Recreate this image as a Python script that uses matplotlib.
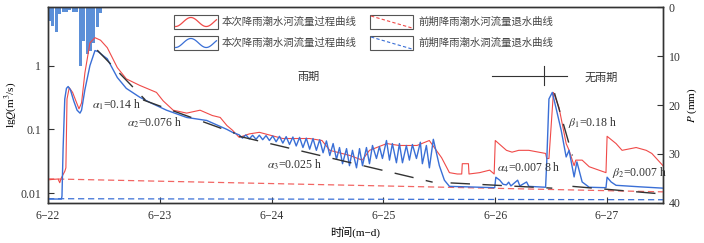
import numpy as np
import matplotlib
from matplotlib import pyplot as plt
from matplotlib.patches import Rectangle
from matplotlib.lines import Line2D

matplotlib.use('agg')

plt.rcParams['font.family'] = ['Liberation Serif', 'Noto Sans CJK SC']
plt.rcParams['mathtext.fontset'] = 'stix'
plt.rcParams['font.size'] = 8

RED = '#f04a48'
BLUE = '#3a6fd6'
BAR = '#5b8fd8'
INK = '#333333'

# time in days after 6-22 00:00
rain_t = [0, 0.0305, 0.061, 0.0915, 0.122, 0.1525, 0.183, 0.2135,
          0.244, 0.2745, 0.305, 0.3355, 0.366, 0.3965, 0.427, 0.4575]
rain_p = [2.8, 3.8, 5.1, 1.4, 0.9, 1.0, 0.5, 0.9,
          1.0, 12.0, 7.0, 9.5, 9.0, 7.3, 4.0, 1.2]

red_t = [0, 0.05, 0.09, 0.105, 0.12, 0.15, 0.16, 0.17, 0.19, 0.22, 0.277, 0.3,
         0.33, 0.375, 0.42, 0.47, 0.53, 0.62, 0.7, 0.82, 0.97, 1.03, 1.12, 1.24,
         1.36, 1.47, 1.54, 1.6, 1.65, 1.71, 1.8, 1.89, 2.0, 2.1, 2.34, 2.45,
         2.52, 2.7, 2.81, 2.875, 3.03, 3.14, 3.3, 3.41, 3.52, 3.59, 3.66, 3.70,
         3.705, 3.76, 3.765, 3.86, 3.95, 3.99, 4.0, 4.1, 4.15, 4.21, 4.3, 4.45,
         4.46, 4.48, 4.52, 4.57, 4.634, 4.66, 4.705, 4.72, 4.777, 4.84, 4.99,
         5.0, 5.08, 5.134, 5.26, 5.35, 5.4, 5.5]
red_q = [0.0162, 0.0165, 0.0167, 0.0146, 0.0175, 0.022, 0.025, 0.3, 0.45, 0.38,
         0.21, 0.26, 0.77, 2.27, 2.74, 2.5, 1.91, 0.93, 0.62, 0.49, 0.38, 0.28,
         0.2, 0.18, 0.2, 0.165, 0.154, 0.115, 0.097, 0.075, 0.085, 0.09, 0.08,
         0.072, 0.072, 0.067, 0.047, 0.039, 0.033, 0.047, 0.06, 0.056, 0.056,
         0.067, 0.036, 0.021, 0.02, 0.02, 0.029, 0.029, 0.02, 0.021, 0.023, 0.02,
         0.067, 0.047, 0.044, 0.047, 0.047, 0.042, 0.035, 0.035, 0.38, 0.22,
         0.06, 0.047, 0.027, 0.033, 0.033, 0.026, 0.021, 0.078, 0.06, 0.047,
         0.052, 0.047, 0.042, 0.027]

blue_t = [0, 0.12, 0.125, 0.135, 0.15, 0.165, 0.18, 0.2, 0.23, 0.26, 0.286, 0.3,
          0.33, 0.375, 0.42, 0.45, 0.5, 0.53, 0.62, 0.7, 0.82, 0.91, 1.06, 1.24,
          1.42, 1.6, 1.65,
          1.71, 1.74, 1.77, 1.80, 1.83, 1.86, 1.89, 1.92, 1.95, 1.98, 2.01, 2.04,
          2.07, 2.10, 2.13, 2.16, 2.19, 2.22, 2.25, 2.28, 2.31, 2.34, 2.37, 2.40,
          2.43, 2.46, 2.49, 2.52, 2.55, 2.58, 2.607, 2.634, 2.67, 2.696, 2.723,
          2.759, 2.786, 2.8125, 2.848, 2.875, 2.902, 2.9375, 2.964, 2.991, 3.027,
          3.054, 3.08, 3.116, 3.143, 3.17, 3.205, 3.232, 3.259, 3.295, 3.33,
          3.348, 3.384, 3.411, 3.446,
          3.5, 3.545, 3.59, 3.8, 3.995, 4.005, 4.04, 4.07, 4.1, 4.12, 4.14, 4.2,
          4.22, 4.28, 4.3, 4.45, 4.46, 4.48, 4.51, 4.545, 4.59, 4.634, 4.66,
          4.705, 4.73, 4.777, 4.84, 4.99, 5.0, 5.036, 5.08, 5.29, 5.5]
blue_q = [0.0081, 0.0081, 0.009, 0.05, 0.3, 0.44, 0.47, 0.42, 0.28, 0.2, 0.18,
          0.2, 0.42, 1.0, 1.72, 1.65, 1.4, 1.28, 0.65, 0.44, 0.32, 0.265, 0.2,
          0.154, 0.138, 0.1, 0.09,
          0.082, 0.073, 0.082, 0.071, 0.081, 0.070, 0.081, 0.069, 0.080, 0.067,
          0.079, 0.064, 0.078, 0.061, 0.077, 0.058, 0.076, 0.055, 0.075, 0.052,
          0.073, 0.049, 0.072, 0.047, 0.069, 0.043, 0.066, 0.039, 0.060, 0.034,
          0.052, 0.029, 0.050, 0.027, 0.047, 0.025, 0.050, 0.027, 0.052, 0.029,
          0.056, 0.035, 0.054, 0.035, 0.067, 0.033, 0.060, 0.030, 0.060, 0.030,
          0.056, 0.033, 0.058, 0.035, 0.063, 0.029, 0.056, 0.025, 0.070,
          0.027, 0.016, 0.0128, 0.0125, 0.0122, 0.0178, 0.016, 0.0138, 0.0135,
          0.0149, 0.013, 0.016, 0.013, 0.015, 0.0128, 0.0124, 0.03, 0.3, 0.38,
          0.21, 0.096, 0.037, 0.047, 0.018, 0.031, 0.015, 0.0124, 0.0122, 0.0178,
          0.015, 0.0133, 0.0126, 0.012]

# previous-event recession curves (dashed)
prev_t = [0, 5.5]
prev_red_q = [0.0168, 0.0105]
prev_blue_q = [0.0082, 0.0079]

# fitted recession segments (t, q)
fits = [
    ([0.44, 0.87], [1.75, 0.29]),
    ([0.85, 1.67], [0.29, 0.087]),
    ([1.71, 3.44], [0.078, 0.0149]),
    ([3.6, 4.51], [0.0145, 0.012]),
    ([4.53, 4.69], [0.37, 0.039]),
    ([4.69, 5.5], [0.0128, 0.0097]),
]
fit_labels = [r'$\alpha_1$=0.14 h', r'$\alpha_2$=0.076 h', r'$\alpha_3$=0.025 h',
              r'$\alpha_4$=0.007 8 h', r'$\beta_1$=0.18 h', r'$\beta_2$=0.007 h']
label_pos = [(0.072, 0.50), (0.128, 0.408), (0.356, 0.196),
             (0.730, 0.178), (0.846, 0.408), (0.917, 0.157)]

day_ticks = [0, 1, 2, 3, 4, 5]
day_labels = ['6\u221222', '6\u221223', '6\u221224', '6\u221225', '6\u221226', '6\u221227']

fig = plt.figure(figsize=(7.04, 2.43), dpi=100)
ax = fig.add_axes([48 / 704, 1 - 202.7 / 243, 615 / 704, 195.4 / 243])
ax2 = ax.twinx()

ax2.bar(rain_t, rain_p, width=0.027, align='edge', color=BAR, zorder=1)
ax2.set_ylim(40, 0)
ax2.set_yticks([0, 10, 20, 30, 40])
ax2.set_ylabel(r'$P$ (mm)', labelpad=4)
ax2.tick_params(direction='in', length=4, labelsize=8.5, colors=INK, pad=4)

ax.set_zorder(ax2.get_zorder() + 1)
ax.patch.set_visible(False)

ax.plot(prev_t, prev_red_q, color=RED, lw=0.9, ls=(0, (5, 3)), alpha=0.85)
ax.plot(prev_t, prev_blue_q, color=BLUE, lw=0.9, ls=(0, (5, 3)))
ax.plot(red_t, red_q, color=RED, lw=0.8)
ax.plot(blue_t, blue_q, color=BLUE, lw=1.0)
for (ft, fq) in fits:
    ax.plot(ft, fq, color=INK, lw=1.0, ls=(0, (14, 9)))

for lab, (lx, ly) in zip(fit_labels, label_pos):
    ax.text(lx, ly, lab, transform=ax.transAxes, fontsize=8.5, color=INK,
            va='center', ha='left')

ax.text(0.424, 0.643, '雨期', transform=ax.transAxes, fontsize=8, color=INK,
        ha='center', va='center')
ax.text(0.899, 0.638, '无雨期', transform=ax.transAxes, fontsize=8, color=INK,
        ha='center', va='center')
ax.plot([0.722, 0.844], [0.648, 0.648], color=INK, lw=0.8, transform=ax.transAxes)
ax.plot([0.807, 0.807], [0.602, 0.699], color=INK, lw=0.8, transform=ax.transAxes)

ax.set_yscale('log')
ax.set_ylim(0.0071, 8.2)
ax.set_xlim(0, 5.5)
ax.set_yticks([0.01, 0.1, 1])
ax.set_yticklabels(['0.01', '0.1', '1'])
ax.minorticks_off()
ax.set_xticks(day_ticks)
ax.set_xticklabels(day_labels)
ax.tick_params(direction='in', length=4, labelsize=8.5, colors=INK, pad=5)
ax.set_ylabel(r'lg$Q$(m$^3$/s)', labelpad=1)
ax.set_xlabel('时间(m\u2212d)', fontsize=8, labelpad=3)
for a in (ax, ax2):
    for s in a.spines.values():
        s.set_color(INK)
        s.set_linewidth(1.0)


# legend drawn by hand, pixel positions on the figure
def fx(x):
    return x / 704


def fy(y):
    return 1 - y / 243


def handle_box(x0, y0, x1, y1):
    fig.add_artist(Rectangle((fx(x0), fy(y1)), fx(x1) - fx(x0), fy(y0) - fy(y1),
                             transform=fig.transFigure, fill=False, ec='#555555', lw=0.8))


u = np.linspace(0, 1, 60)
wave = np.sin(-np.pi / 2 + 2 * np.pi * u / 0.75)
rows = [(15, 29), (36, 50)]
for (y0, y1), col in zip(rows, [RED, BLUE]):
    handle_box(174, y0, 218, y1)
    ym = (y0 + y1) / 2
    fig.add_artist(Line2D(fx(175.5 + 41 * u), fy(ym - 4.5 * wave), color=col, lw=0.9,
                          transform=fig.transFigure))
    handle_box(370, y0, 413, y1)
    fig.add_artist(Line2D([fx(371), fx(412)], [fy(y0 + 1), fy(y1 - 1)], color=col, lw=0.8,
                          ls=(0, (3, 2)), transform=fig.transFigure))

legend_text = [('本次降雨潮水河流量过程曲线', 222, 22), ('本次降雨潮水洞流量过程曲线', 222, 43),
               ('前期降雨潮水河流量退水曲线', 418, 22), ('前期降雨潮水洞流量退水曲线', 418, 43)]
for txt, x, y in legend_text:
    fig.text(fx(x), fy(y), txt, fontsize=7.5, color='#444444', va='center', ha='left')

fig.savefig('out.png', dpi=100)
plt.close()
